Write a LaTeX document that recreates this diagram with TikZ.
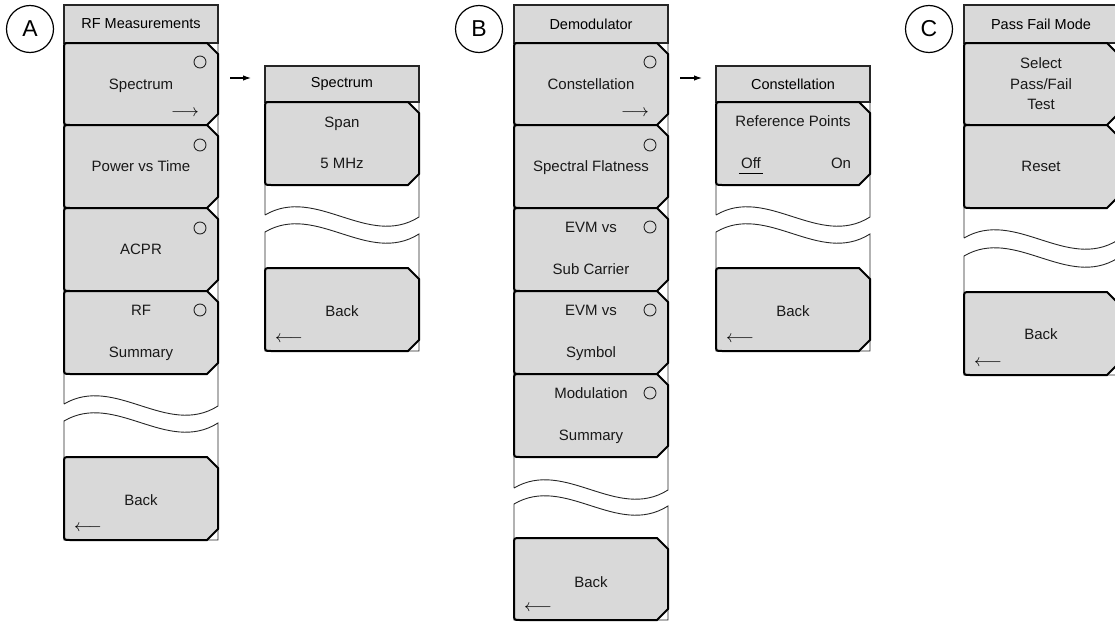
\documentclass[tikz,border=0pt]{standalone}
\usepackage{fontspec}
\setmainfont{Liberation Sans}
\usetikzlibrary{arrows.meta}
\definecolor{btngray}{HTML}{D9D9D9}
\tikzset{
  btn/.style={fill=btngray, draw=black, line width=2pt, line join=miter},
  framel/.style={draw=black!85, line width=0.9pt},
  ttl/.style={fill=btngray, draw=black!85, line width=1.2pt, minimum width=154pt,
    inner sep=0pt, font=\fontsize{14.5}{16}\selectfont},
  lbl/.style={font=\fontsize{15}{17}\selectfont, inner sep=0pt, text height=10.7pt,
    text depth=0pt, text=black!90},
  ind/.style={draw=black!85, line width=0.9pt},
  icon/.style={font=\fontsize{17}{19}\selectfont, inner sep=0pt},
  conn/.style={line width=1.1pt, -{Latex[length=8pt,width=5.5pt]}},
  tag/.style={circle, draw, line width=1.2pt, minimum size=47pt, inner sep=0pt,
    font=\fontsize{23}{26}\selectfont},
}
% button: left, top, bottom
\newcommand\mbtn[3]{%
  \path[btn] ({#1+143},#2) -- ({#1+6},#2) .. controls (#1,#2) .. (#1,{#2+6})
    -- (#1,{#3-6}) .. controls (#1,#3) .. ({#1+6},#3) -- ({#1+143},#3)
    -- ({#1+154},{#3-11}) -- ({#1+154},{#2+11}) -- cycle;}
% upper frame: left, top, wave y
\newcommand\upframe[3]{%
  \draw[framel] (#1,#3) -- (#1,#2) -- ({#1+154},#2) -- ({#1+154},{#3+2})
    .. controls ({#1+103},{#3+34}) and ({#1+51},{#3-30}) .. (#1,#3);}
% lower frame: left, wave y, bottom
\newcommand\lowframe[3]{%
  \draw[framel] (#1,#2) .. controls ({#1+51},{#2-30}) and ({#1+103},{#2+34}) .. ({#1+154},{#2+2})
    -- ({#1+154},#3) -- (#1,#3) -- cycle;}
% indicator circle: right, y
\newcommand\indc[2]{\draw[ind] ({#1-18},#2) circle (6pt);}
\begin{document}
\begin{tikzpicture}[x=1pt,y=-1pt]
\path[use as bounding box] (0,0) rectangle (1115,621);
\clip (0,0) rectangle (1115,621);

% ---------------- Menu A ----------------
\node[tag] (tagA) at (30,29) {A};
\upframe{64}{5}{404}
\lowframe{64}{421}{540}
\node[ttl, minimum height=38pt] (tA) at (141,24) {RF Measurements};
\mbtn{64}{43}{125}
\mbtn{64}{125}{208}
\mbtn{64}{208}{291}
\mbtn{64}{291}{374}
\mbtn{64}{457}{540}
\node[lbl] (a1) at (141,84) {Spectrum};
\indc{218}{62}
\node[icon] (a1ar) at (185,113) {$\longrightarrow$};
\node[lbl] (a2) at (141,166) {Power vs Time};
\indc{218}{145}
\node[lbl] (a3) at (141,249) {ACPR};
\indc{218}{228}
\node[lbl] (a4a) at (141,310) {RF};
\node[lbl] (a4b) at (141,352) {Summary};
\indc{218}{310}
\node[lbl] (a5) at (141,500) {Back};
\node[icon] (a5ar) at (88,528) {$\longleftarrow$};

% connector A -> Spectrum
\coordinate (ca1) at (230,78);
\coordinate (ca2) at (251,78);
\draw[conn] (ca1) -- (ca2);

% ---------------- Spectrum submenu ----------------
\upframe{265}{66}{215}
\lowframe{265}{232}{351}
\node[ttl, minimum height=36pt] (tS) at (342,84) {Spectrum};
\mbtn{265}{102}{185}
\mbtn{265}{268}{351}
\node[lbl] (s1a) at (342,122) {Span};
\node[lbl] (s1b) at (342,163) {5 MHz};
\node[lbl] (s2) at (342,311) {Back};
\node[icon] (s2ar) at (289,339) {$\longleftarrow$};

% ---------------- Menu B ----------------
\node[tag] (tagB) at (479,29) {B};
\upframe{514}{5}{488}
\lowframe{514}{504}{620}
\node[ttl, minimum height=38pt] (tB) at (591,24) {Demodulator};
\mbtn{514}{43}{125}
\mbtn{514}{125}{208}
\mbtn{514}{208}{291}
\mbtn{514}{291}{374}
\mbtn{514}{374}{457}
\mbtn{514}{538}{620}
\node[lbl] (b1) at (591,84) {Constellation};
\indc{668}{62}
\node[icon] (b1ar) at (635,113) {$\longrightarrow$};
\node[lbl] (b2) at (591,166) {Spectral Flatness};
\indc{668}{145}
\node[lbl] (b3a) at (591,227) {EVM vs};
\node[lbl] (b3b) at (591,269) {Sub Carrier};
\indc{668}{227}
\node[lbl] (b4a) at (591,310) {EVM vs};
\node[lbl] (b4b) at (591,352) {Symbol};
\indc{668}{310}
\node[lbl] (b5a) at (591,393) {Modulation};
\node[lbl] (b5b) at (591,435) {Summary};
\indc{668}{393}
\node[lbl] (b6) at (591,582) {Back};
\node[icon] (b6ar) at (538,608) {$\longleftarrow$};

% connector B -> Constellation
\coordinate (cb1) at (680,78);
\coordinate (cb2) at (702,78);
\draw[conn] (cb1) -- (cb2);

% ---------------- Constellation submenu ----------------
\upframe{716}{66}{215}
\lowframe{716}{232}{351}
\node[ttl, minimum height=36pt] (tK) at (793,84) {Constellation};
\mbtn{716}{102}{185}
\mbtn{716}{268}{351}
\node[lbl] (k1) at (793,121) {Reference Points};
\node[lbl] (koff) at (751,163) {Off};
\draw[line width=0.8pt] ([xshift=-2pt,yshift=-5pt]koff.south west) -- ([xshift=2pt,yshift=-5pt]koff.south east);
\node[lbl] (kon) at (841,163) {On};
\node[lbl] (k2) at (793,311) {Back};
\node[icon] (k2ar) at (740,339) {$\longleftarrow$};

% ---------------- Menu C ----------------
\node[tag] (tagC) at (929,29) {C};
\upframe{964}{5}{238}
\lowframe{964}{256}{375}
\node[ttl, minimum height=38pt] (tC) at (1041,24) {Pass Fail Mode};
\mbtn{964}{43}{125}
\mbtn{964}{125}{208}
\mbtn{964}{292}{375}
\node[lbl] (c1a) at (1041,63) {Select};
\node[lbl] (c1b) at (1041,84) {Pass/Fail};
\node[lbl] (c1c) at (1041,104) {Test};
\node[lbl] (c2) at (1041,166) {Reset};
\node[lbl] (c3) at (1041,334) {Back};
\node[icon] (c3ar) at (988,363) {$\longleftarrow$};
\end{tikzpicture}
\end{document}
